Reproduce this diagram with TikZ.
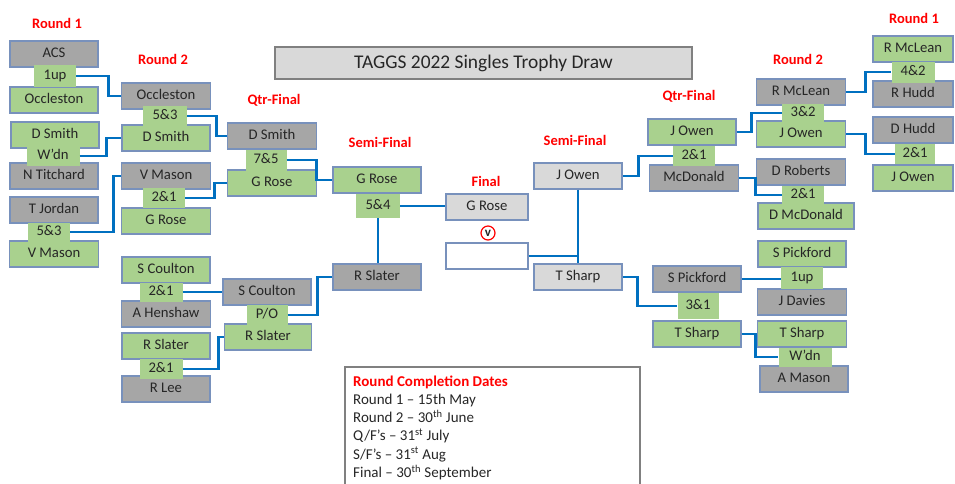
\documentclass[tikz,border=0pt]{standalone}
\usepackage{fontspec}
\setmainfont{Carlito}
\usetikzlibrary{calc}
\definecolor{gfill}{RGB}{169,209,142}
\definecolor{dfill}{RGB}{166,166,166}
\definecolor{lfill}{RGB}{217,217,217}
\definecolor{bord}{RGB}{120,145,188}
\definecolor{wire}{RGB}{0,112,192}
\definecolor{txt}{RGB}{38,38,38}
\definecolor{redt}{RGB}{255,0,0}
\begin{document}
\begin{tikzpicture}[x=1pt,y=-1pt,
 base/.style={inner sep=0pt, text height=10pt, text depth=3pt, font=\fontsize{14.7}{17}\selectfont, text=txt, minimum height=26pt, minimum width=88pt},
 gb/.style={base, fill=gfill, draw=bord, line width=1.2pt},
 db/.style={base, fill=dfill, draw=bord, line width=1.2pt},
 lb/.style={base, fill=lfill, draw=bord, line width=1.2pt},
 sc/.style={base, fill=gfill, minimum width=42pt, minimum height=22pt},
 lab/.style={font=\bfseries\fontsize{14.5}{17}\selectfont, text=redt, inner sep=0pt},
 legt/.style={font=\fontsize{15}{17}\selectfont, text=txt, inner sep=0pt, anchor=base west},
 conn/.style={draw=wire, line width=2.8pt},
]
\useasboundingbox (0,0) rectangle (955,483);

% title
\node[draw=gray, fill=lfill, line width=1.8pt, minimum width=417pt, minimum height=32pt, inner sep=0pt, text=txt, font=\fontsize{19.4}{22}\selectfont] (title) at (483.5,63) {TAGGS 2022 Singles Trophy Draw};

% round labels
\node[lab] (l1) at (57,23) {Round 1};
\node[lab] (l2) at (163,59) {Round 2};
\node[lab] (l3) at (274,100) {Qtr-Final};
\node[lab] (l4) at (380,142) {Semi-Final};
\node[lab] (l5) at (486,181) {Final};
\node[lab] (l6) at (575,140) {Semi-Final};
\node[lab] (l7) at (689,96) {Qtr-Final};
\node[lab] (l8) at (798,59) {Round 2};
\node[lab] (l9) at (914,18) {Round 1};

% left round 1
\node[db] (acs) at (54,54) {ACS};
\node[gb] (occ1) at (54,100) {Occleston};
\node[sc] (s1) at (55,76) {1up};
\node[gb] (dsm1) at (55,135) {D Smith};
\node[db] (tit) at (54,176) {N Titchard};
\node[sc, minimum width=53pt, minimum height=20pt] (s2) at (53,156) {W’dn};
\node[db] (jor) at (54,210) {T Jordan};
\node[gb, minimum width=89pt] (vma1) at (54,254) {V Mason};
\node[sc, minimum height=19pt] (s3) at (49,232) {5\&3};

% left round 2
\node[db, minimum width=89pt] (occ2) at (166,96) {Occleston};
\node[gb] (dsm2) at (166,138) {D Smith};
\node[sc, minimum width=44pt, minimum height=20pt] (s4) at (165,116) {5\&3};
\node[db, minimum width=89pt] (vma2) at (166,176) {V Mason};
\node[gb, minimum width=89pt] (gro2) at (166,221) {G Rose};
\node[sc, minimum height=20pt] (s5) at (164,198) {2\&1};
\node[gb] (sco2) at (166,270) {S Coulton};
\node[db, minimum width=89pt] (hen) at (166,314) {A Henshaw};
\node[sc, minimum width=43pt, minimum height=19pt] (s6) at (161,292) {2\&1};
\node[gb] (sla2) at (166,346) {R Slater};
\node[db] (lee) at (166,389) {R Lee};
\node[sc, minimum width=43pt, minimum height=20pt] (s7) at (161,369) {2\&1};

% left quarter-finals
\node[db, minimum width=89pt] (dsm3) at (272,136) {D Smith};
\node[gb, minimum width=89pt] (gro3) at (272,183) {G Rose};
\node[sc, minimum width=41pt, minimum height=21pt] (s8) at (266,160) {7\&5};
\node[db] (sco3) at (267,292) {S Coulton};
\node[gb, minimum width=87pt] (sla3) at (268,337) {R Slater};
\node[sc, minimum width=41pt, minimum height=20pt] (s9) at (267,315) {P/O};

% left semi-final
\node[gb] (gro4) at (377,180) {G Rose};
\node[db] (sla4) at (377,277) {R Slater};
\node[sc, minimum width=44pt, minimum height=24pt] (s10) at (378,206) {5\&4};

% final
\node[lb, minimum width=82pt] (gro5) at (487,207) {G Rose};
\node[circle, draw=redt, line width=1.2pt, fill=white, minimum size=14pt, inner sep=0pt, text=txt, font=\bfseries\fontsize{13}{14}\selectfont] (vs) at (488,233) {v};
\node[base, fill=white, draw=bord, line width=1.2pt, minimum width=82pt] (emp) at (487,256) {};

% right semi-final
\node[lb] (owe4) at (578,176) {J Owen};
\node[lb] (sha4) at (578,277) {T Sharp};

% right quarter-finals
\node[gb] (owe3) at (692,132) {J Owen};
\node[db, minimum width=89pt] (mcd3) at (694,178) {McDonald};
\node[sc, minimum height=20pt] (s11) at (694,156) {2\&1};
\node[db] (pic3) at (697,279) {S Pickford};
\node[gb] (sha3) at (697,334) {T Sharp};
\node[sc, minimum width=41pt, minimum height=26pt] (s12) at (698,306) {3\&1};

% right round 2
\node[db, minimum width=89pt] (mcl2) at (801,92) {R McLean};
\node[gb, minimum width=89pt] (owe2) at (801,134) {J Owen};
\node[sc, minimum height=18pt] (s13) at (803,113) {3\&2};
\node[db, minimum width=89pt] (rob) at (801,172) {D Roberts};
\node[gb, minimum width=96pt] (mcd2) at (806,216) {D McDonald};
\node[sc, minimum height=18pt] (s14) at (803,195) {2\&1};
\node[gb] (pic2) at (802,254) {S Pickford};
\node[db, minimum width=89pt] (dav) at (802,302) {J Davies};
\node[sc, minimum height=22pt] (s15) at (802,278) {1up};
\node[gb, minimum width=89pt] (sha2) at (802,334) {T Sharp};
\node[db] (mas) at (804,379) {A Mason};
\node[sc, minimum width=53pt, minimum height=19pt] (s16) at (805,357) {W’dn};

% right round 1
\node[gb, minimum width=80pt] (mcl1) at (913,49) {R McLean};
\node[db, minimum width=80pt] (hud1) at (913,94) {R Hudd};
\node[sc, minimum width=43pt, minimum height=21pt] (s17) at (913,72) {4\&2};
\node[db, minimum width=80pt] (hud2) at (913,130) {D Hudd};
\node[gb, minimum width=80pt] (owe1) at (913,178) {J Owen};
\node[sc, minimum width=40pt, minimum height=20pt] (s18) at (915,154) {2\&1};

% connectors left
\draw[conn] (s1.east) -- ++(32,0) |- (occ2.west);
\draw[conn] (s2.east) -- ++(27,0) |- (dsm2.west);
\draw[conn] (s3.east) -- ++(43,0) |- (vma2.west);
\draw[conn] (s4.east) -- ++(29,0) |- (dsm3.west);
\draw[conn] (s5.east) -- ++(29,0) |- (gro3.west);
\draw[conn] (s8.east) -- ++(30,0) |- (gro4.west);
\draw[conn] (s6.east) -- (s6.east -| sco3.west);
\draw[conn] (s7.east) -- ++(36,0) |- (sla3.west);
\draw[conn] (s9.east) -- ++(30,0) |- (sla4.west);
\draw[conn] (s10.south) -- (s10.south |- sla4.north);
\draw[conn] (s10.east) -- (s10.east -| gro5.west);
% centre
\draw[conn] (owe4.south) -- (sha4.north);
\draw[conn] (emp.east) -- (emp.east -| owe4.south);
% connectors right
\draw[conn] (owe4.east) -- ++(16,0) |- (s11.west);
\draw[conn] (owe3.east) -- ++(15,0) |- (s13.west);
\draw[conn] (mcd3.east) -- ++(16,0) |- (s14.west);
\draw[conn] (mcl2.east) -- ++(19,0) |- (s17.west);
\draw[conn] (owe2.east) -- ++(19,0) |- (s18.west);
\draw[conn] (sha4.east) -- ++(15,0) |- (s12.west);
\draw[conn] (pic3.east) -- (pic3.east -| s15.west);
\draw[conn] (sha3.east) -- ++(14,0) |- (s16.west);

% legend
\draw[draw=gray, line width=1.2pt] (345,486) -- (345,367) -- (640,367) -- (640,486);
\node[legt, font=\bfseries\fontsize{15}{17}\selectfont, text=redt] (lg0) at (353,386) {Round Completion Dates};
\node[legt] (lg1) at (353,404.5) {Round 1 – 15th May};
\node[legt] (lg2) at (353,422.5) {Round 2 – 30\textsuperscript{th} June};
\node[legt] (lg3) at (353,440.5) {Q/F’s – 31\textsuperscript{st} July};
\node[legt] (lg4) at (353,459) {S/F’s – 31\textsuperscript{st} Aug};
\node[legt] (lg5) at (353,477.5) {Final – 30\textsuperscript{th} September};
\end{tikzpicture}
\end{document}
